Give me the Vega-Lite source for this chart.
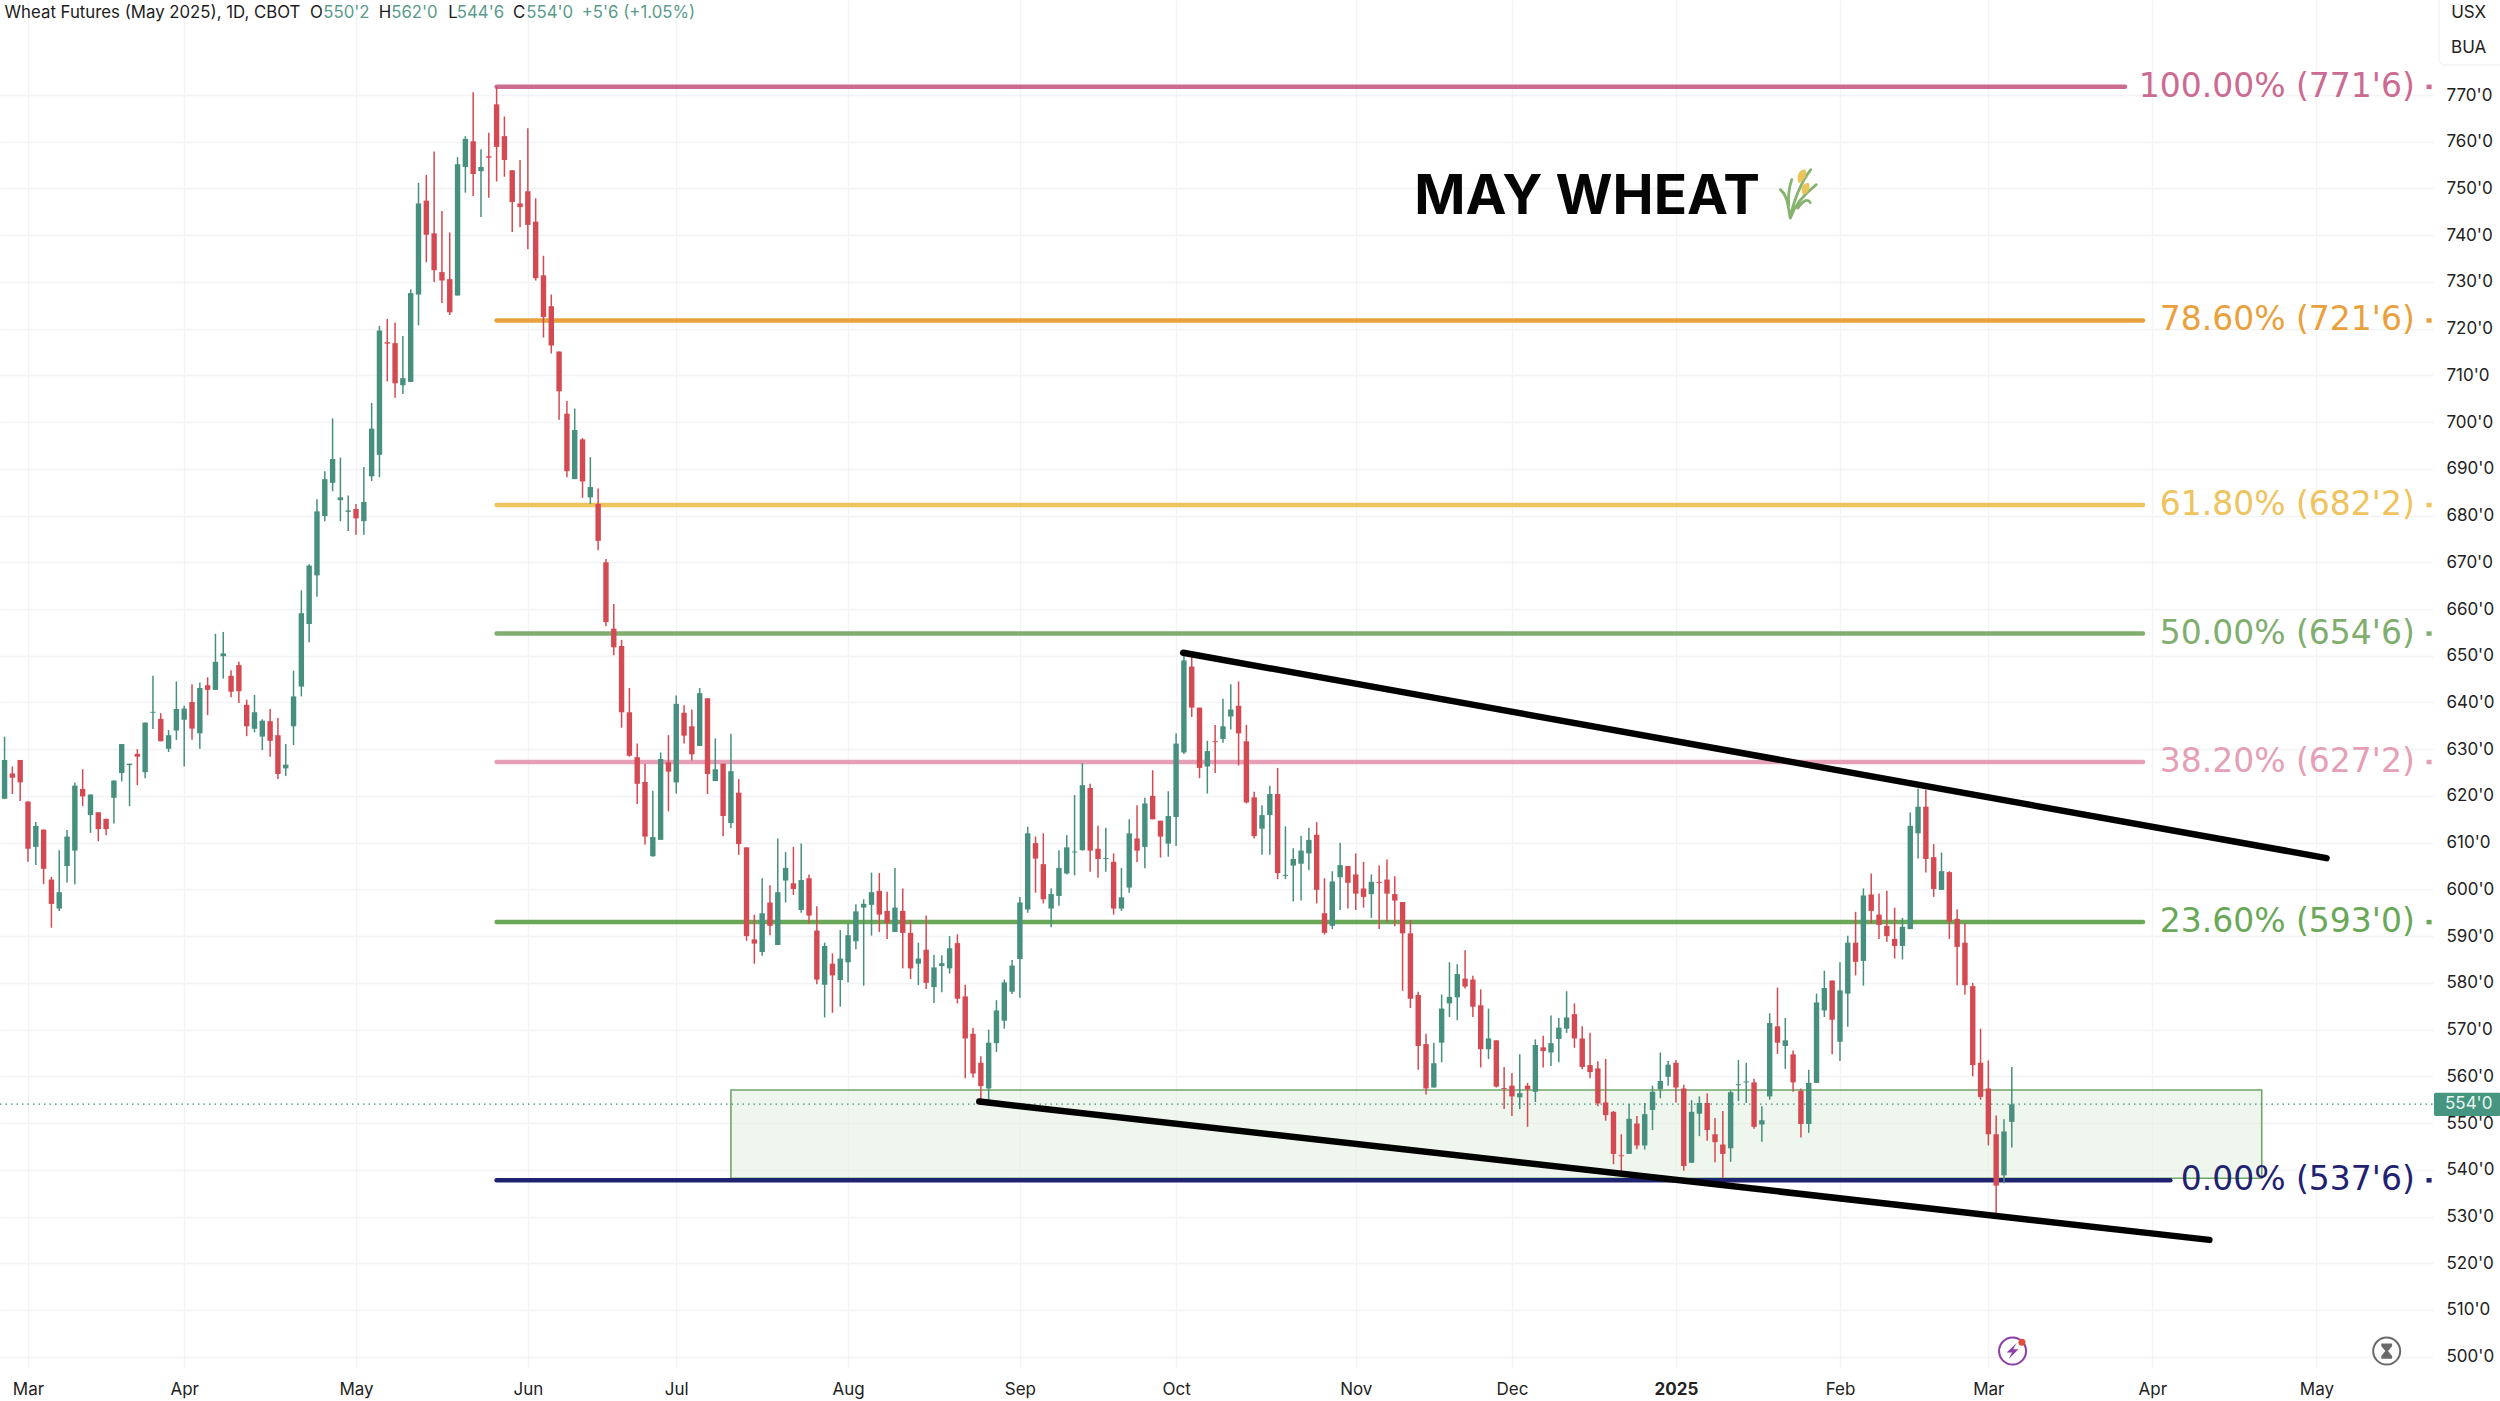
{"$schema":"https://vega.github.io/schema/vega-lite/v6.json","width":2433,"height":1368,"autosize":"none","padding":{"left":0,"top":0,"right":67,"bottom":33},"background":"#ffffff","config":{"view":{"stroke":null},"axis":{"title":null},"text":{"font":"Inter"}},
"datasets":{"candles":[
{"i":-3,"o":619.4,"h":632.7,"l":619.3,"c":627.7},{"i":-2,"o":624.8,"h":626.3,"l":620.4,"c":623.9},{"i":-1,"o":627.7,"h":627.7,"l":618.9,"c":622.9},{"i":0,"o":618.8,"h":618.8,"l":605.9,"c":608.7},{"i":1,"o":609.1,"h":614.4,"l":605.2,"c":613.6},{"i":2,"o":612.8,"h":612.8,"l":601.1,"c":604.4},{"i":3,"o":602.1,"h":602.7,"l":591.8,"c":596.9},{"i":4,"o":595.9,"h":608.4,"l":595.4,"c":599.4},{"i":5,"o":605,"h":612.7,"l":601.5,"c":611.3},{"i":6,"o":608.3,"h":622.9,"l":601.1,"c":622.2},{"i":7,"o":621.5,"h":625.7,"l":617.8,"c":619.9},{"i":8,"o":615.9,"h":620.3,"l":612.1,"c":620.3},{"i":9,"o":616.5,"h":616.5,"l":610.3,"c":612.9},{"i":10,"o":615.1,"h":615.1,"l":611.6,"c":612.9},{"i":11,"o":619.6,"h":623.3,"l":614.1,"c":623.3},{"i":12,"o":624.9,"h":631.1,"l":623.1,"c":631.1},{"i":13,"o":626.6,"h":626.9,"l":617.8,"c":626.9},{"i":14,"o":629,"h":630,"l":622.3,"c":628.4},{"i":15,"o":625.1,"h":635.7,"l":623.8,"c":635.7},{"i":16,"o":637.8,"h":645.7,"l":634.3,"c":638},{"i":17,"o":636.5,"h":637.7,"l":631.7,"c":631.7},{"i":18,"o":630.1,"h":634.1,"l":629.4,"c":633},{"i":19,"o":634,"h":644.5,"l":632,"c":638.6},{"i":20,"o":636.3,"h":639.3,"l":626.3,"c":638.7},{"i":21,"o":640.1,"h":643.9,"l":632,"c":634.4},{"i":22,"o":633.4,"h":644.3,"l":630.1,"c":643.1},{"i":23,"o":643.7,"h":645.4,"l":637.3,"c":642.7},{"i":24,"o":642.7,"h":654.7,"l":642.7,"c":648.7},{"i":25,"o":649.9,"h":655.1,"l":645.1,"c":650.5},{"i":26,"o":645.7,"h":646.9,"l":641.1,"c":642.3},{"i":27,"o":648,"h":648.7,"l":639.9,"c":642.4},{"i":28,"o":639.5,"h":640.6,"l":632.8,"c":634.9},{"i":29,"o":634.4,"h":641.6,"l":633.6,"c":637.9},{"i":30,"o":632.7,"h":636.4,"l":629.8,"c":636.1},{"i":31,"o":636,"h":638.6,"l":628.4,"c":631.8},{"i":32,"o":633,"h":636.7,"l":623.6,"c":624.7},{"i":33,"o":625.9,"h":631.1,"l":624.3,"c":626.7},{"i":34,"o":634.9,"h":646.8,"l":630.9,"c":641.3},{"i":35,"o":643.4,"h":664,"l":641.3,"c":659.1},{"i":36,"o":656.8,"h":669.6,"l":652.9,"c":669.3},{"i":37,"o":667.2,"h":683.5,"l":662.6,"c":680.9},{"i":38,"o":679.9,"h":689.5,"l":678.8,"c":687.8},{"i":39,"o":687,"h":700.8,"l":685.2,"c":692.1},{"i":40,"o":683.3,"h":692.4,"l":678.8,"c":683.9},{"i":41,"o":680.8,"h":684.3,"l":676.7,"c":681.1},{"i":42,"o":681.4,"h":682.5,"l":675.9,"c":679.4},{"i":43,"o":678.8,"h":690.4,"l":675.9,"c":682.9},{"i":44,"o":688.4,"h":704.1,"l":687.4,"c":698.6},{"i":45,"o":693,"h":720.6,"l":688.2,"c":719.6},{"i":46,"o":717.1,"h":722.1,"l":708.7,"c":716.8},{"i":47,"o":716.9,"h":721.3,"l":705.2,"c":708.3},{"i":48,"o":707.9,"h":718.4,"l":706,"c":709.4},{"i":49,"o":708.6,"h":728.4,"l":708.6,"c":727.6},{"i":50,"o":727.3,"h":751.2,"l":720.7,"c":746.8},{"i":51,"o":747.4,"h":752.9,"l":734.2,"c":740.1},{"i":52,"o":740.4,"h":757.9,"l":730,"c":732.5},{"i":53,"o":732.1,"h":745.2,"l":725.5,"c":730.3},{"i":54,"o":730.6,"h":740.6,"l":722.9,"c":723.5},{"i":55,"o":727.1,"h":756.7,"l":727.1,"c":755.2},{"i":56,"o":754.6,"h":761.2,"l":749.1,"c":760.6},{"i":57,"o":760.1,"h":770.6,"l":748.4,"c":753.1},{"i":58,"o":753.7,"h":758.4,"l":743.9,"c":754.6},{"i":59,"o":756.9,"h":761.9,"l":748,"c":756.6},{"i":60,"o":768,"h":771.75,"l":751.5,"c":758.9},{"i":61,"o":761.2,"h":765.4,"l":752.5,"c":756.1},{"i":62,"o":753.9,"h":753.9,"l":740.7,"c":747.1},{"i":63,"o":746.8,"h":756.1,"l":741.7,"c":746},{"i":64,"o":749.4,"h":762.9,"l":737,"c":742.2},{"i":65,"o":742.9,"h":747.9,"l":730.3,"c":730.8},{"i":66,"o":731.4,"h":735.6,"l":718.1,"c":722.5},{"i":67,"o":724.8,"h":727.3,"l":714.7,"c":716.4},{"i":68,"o":715.1,"h":715.1,"l":700.5,"c":706.6},{"i":69,"o":701.8,"h":704.5,"l":688.2,"c":689.5},{"i":70,"o":687.8,"h":702.9,"l":687.8,"c":698.3},{"i":71,"o":696.3,"h":696.6,"l":683.8,"c":687.3},{"i":72,"o":683.9,"h":692.5,"l":682.5,"c":686.1},{"i":73,"o":682.5,"h":685.8,"l":672.6,"c":674.6},{"i":74,"o":670,"h":670.7,"l":656.3,"c":657.2},{"i":75,"o":655.8,"h":661.1,"l":650.1,"c":651.8},
{"i":76,"o":652.1,"h":653.4,"l":634.6,"c":637.9},{"i":77,"o":637.9,"h":643.1,"l":628.4,"c":628.6},{"i":78,"o":628.3,"h":631.2,"l":618.3,"c":622.6},{"i":79,"o":623,"h":626.9,"l":609.6,"c":611.3},{"i":80,"o":607.1,"h":621.1,"l":607,"c":611.2},{"i":81,"o":610.6,"h":629.3,"l":610.6,"c":627.9},{"i":82,"o":627.2,"h":633,"l":616.7,"c":625.2},{"i":83,"o":622.9,"h":641.5,"l":620.5,"c":639.7},{"i":84,"o":637.8,"h":639.4,"l":631.2,"c":632.9},{"i":85,"o":634.9,"h":638.5,"l":627.6,"c":628.9},{"i":86,"o":630.7,"h":643.1,"l":630.7,"c":642},{"i":87,"o":640.9,"h":640.9,"l":620.4,"c":624.7},{"i":88,"o":623.2,"h":632.3,"l":623.2,"c":625.7},{"i":89,"o":626.9,"h":626.9,"l":611.4,"c":615.7},{"i":90,"o":614.2,"h":633.3,"l":613.1,"c":625.3},{"i":91,"o":620.7,"h":623.6,"l":607.4,"c":609.7},{"i":92,"o":609,"h":609,"l":589,"c":590},{"i":93,"o":589.3,"h":594.6,"l":584.1,"c":588.4},{"i":94,"o":586.6,"h":602.4,"l":585.8,"c":594.9},{"i":95,"o":597.2,"h":600.9,"l":590.2,"c":592.2},{"i":96,"o":588.1,"h":610.9,"l":588.1,"c":599.4},{"i":97,"o":601.9,"h":608,"l":597.2,"c":604.6},{"i":98,"o":601.3,"h":609.1,"l":598.8,"c":600.1},{"i":99,"o":595.6,"h":609.8,"l":595,"c":602},{"i":100,"o":602.4,"h":603.2,"l":592.7,"c":594.4},{"i":101,"o":591.2,"h":596.4,"l":579.7,"c":580.7},{"i":102,"o":579.6,"h":588.6,"l":572.6,"c":587.9},{"i":103,"o":584.1,"h":586.3,"l":573.6,"c":581.6},{"i":104,"o":580.6,"h":591.3,"l":574.9,"c":585.2},{"i":105,"o":584.4,"h":592.7,"l":580.1,"c":590.2},{"i":106,"o":588.9,"h":596.8,"l":587.2,"c":595.3},{"i":107,"o":596.1,"h":597.9,"l":579.4,"c":596.9},{"i":108,"o":596.7,"h":603.6,"l":590.1,"c":599.4},{"i":109,"o":599.7,"h":603.5,"l":590.9,"c":594.6},{"i":110,"o":595.4,"h":599.5,"l":589.4,"c":592.8},{"i":111,"o":590.9,"h":604.6,"l":590.9,"c":596.1},{"i":112,"o":595.4,"h":600.2,"l":583.1,"c":590.7},{"i":113,"o":590.7,"h":593.4,"l":580.8,"c":583.1},{"i":114,"o":584.1,"h":588.6,"l":579.5,"c":585.2},{"i":115,"o":587.1,"h":594.4,"l":578.7,"c":580},{"i":116,"o":579.1,"h":586,"l":575.7,"c":583.3},{"i":117,"o":583.6,"h":585.9,"l":578,"c":584.2},{"i":118,"o":583.1,"h":590,"l":582,"c":587.4},{"i":119,"o":588.5,"h":590.4,"l":575.6,"c":576.6},{"i":120,"o":577.1,"h":579.6,"l":559.6,"c":568.1},{"i":121,"o":569.1,"h":570.4,"l":559.7,"c":560.6},{"i":122,"o":562.9,"h":564.3,"l":554.7,"c":557.9},{"i":123,"o":557.4,"h":570,"l":554.9,"c":567.2},{"i":124,"o":567.1,"h":576.3,"l":565.2,"c":574.1},{"i":125,"o":571.9,"h":580.7,"l":570.2,"c":580.1},{"i":126,"o":578.1,"h":584.9,"l":577.6,"c":583.7},{"i":127,"o":585.1,"h":598.4,"l":576.8,"c":597.2},{"i":128,"o":595.7,"h":613.4,"l":595,"c":612},{"i":129,"o":609.9,"h":611.3,"l":599.3,"c":606.6},{"i":130,"o":605.4,"h":612,"l":597,"c":597.9},{"i":131,"o":595.9,"h":600.2,"l":591.9,"c":599},{"i":132,"o":598.6,"h":608.4,"l":596.5,"c":604.6},{"i":133,"o":603.4,"h":611.6,"l":603.2,"c":609},{"i":134,"o":607.9,"h":620.2,"l":603,"c":608.1},{"i":135,"o":608.4,"h":627,"l":608.3,"c":622.3},{"i":136,"o":621.7,"h":622.6,"l":603.8,"c":608.3},{"i":137,"o":608.7,"h":613.6,"l":602.5,"c":606.5},{"i":138,"o":606.5,"h":613.2,"l":603.8,"c":606.7},{"i":139,"o":605.9,"h":607.7,"l":594.6,"c":595.9},{"i":140,"o":595.9,"h":604.6,"l":595.4,"c":598.3},{"i":141,"o":600.4,"h":615,"l":599.3,"c":612},{"i":142,"o":610.9,"h":618,"l":605.8,"c":608.3},{"i":143,"o":609.1,"h":619.6,"l":604.5,"c":618.4},{"i":144,"o":620,"h":625.5,"l":615,"c":615},{"i":145,"o":614.7,"h":614.7,"l":606.8,"c":611.3},{"i":146,"o":609.8,"h":621,"l":607,"c":615.7},{"i":147,"o":615.5,"h":633.4,"l":609.3,"c":631.2},{"i":148,"o":629.3,"h":650,"l":629,"c":649},{"i":149,"o":647.7,"h":649.9,"l":636.9,"c":638.9},{"i":150,"o":638.9,"h":638.9,"l":623.8,"c":626},{"i":151,"o":626.3,"h":631.8,"l":620.5,"c":629.6},{"i":152,"o":631.7,"h":635.2,"l":624.9,"c":631.5},
{"i":153,"o":632.2,"h":640.8,"l":631.4,"c":634.9},{"i":154,"o":637,"h":643.9,"l":634.2,"c":638.5},{"i":155,"o":639.3,"h":644.5,"l":626.5,"c":633.4},{"i":156,"o":631.7,"h":635.2,"l":618.4,"c":618.6},{"i":157,"o":619.7,"h":620.9,"l":610.9,"c":611.4},{"i":158,"o":613,"h":618,"l":607.4,"c":615.9},{"i":159,"o":615.9,"h":622.2,"l":607.4,"c":620.4},{"i":160,"o":620.4,"h":626,"l":602.2,"c":603.5},{"i":161,"o":602.9,"h":613.5,"l":602.2,"c":603.1},{"i":162,"o":605.1,"h":608.8,"l":597.4,"c":606.5},{"i":163,"o":605.5,"h":611.5,"l":597.6,"c":608.3},{"i":164,"o":607.7,"h":613.2,"l":604.1,"c":610.6},{"i":165,"o":611.7,"h":614.4,"l":597,"c":599.9},{"i":166,"o":594.9,"h":602.4,"l":590.3,"c":590.7},{"i":167,"o":592.2,"h":603.9,"l":591.5,"c":601.7},{"i":168,"o":602.6,"h":610,"l":595.6,"c":605.2},{"i":169,"o":605,"h":605,"l":595.9,"c":601.4},{"i":170,"o":603.2,"h":607.7,"l":595.6,"c":599.1},{"i":171,"o":600.2,"h":605.9,"l":596.1,"c":598.4},{"i":172,"o":599,"h":603.2,"l":593.9,"c":601.6},{"i":173,"o":601.6,"h":605.1,"l":591.5,"c":601.4},{"i":174,"o":602.1,"h":606.4,"l":593,"c":599.1},{"i":175,"o":599,"h":602.8,"l":592.1,"c":597.6},{"i":176,"o":597.3,"h":597.3,"l":578.3,"c":590.6},{"i":177,"o":590.6,"h":593.4,"l":574.6,"c":576.6},{"i":178,"o":577.4,"h":578.1,"l":561.4,"c":566.5},{"i":179,"o":566.9,"h":569.1,"l":556.1,"c":557.4},{"i":180,"o":557.6,"h":567.2,"l":557.6,"c":562.8},{"i":181,"o":567.2,"h":577.5,"l":563,"c":574.5},{"i":182,"o":575.6,"h":584.4,"l":572.7,"c":577},{"i":183,"o":576.9,"h":584,"l":572,"c":581.9},{"i":184,"o":580.9,"h":587,"l":578.8,"c":579.2},{"i":185,"o":580.7,"h":581.5,"l":572.7,"c":574.9},{"i":186,"o":575.2,"h":578.6,"l":561.9,"c":565.8},{"i":187,"o":565.8,"h":574.5,"l":563.7,"c":568.1},{"i":188,"o":567.7,"h":567.7,"l":557.6,"c":557.8},{"i":189,"o":557.5,"h":562,"l":553,"c":557.3},{"i":190,"o":558,"h":560.7,"l":551.5,"c":555.7},{"i":191,"o":555.5,"h":564.7,"l":553,"c":556.4},{"i":192,"o":558,"h":558.6,"l":549.2,"c":557.2},{"i":193,"o":556.7,"h":567.9,"l":554.5,"c":566.7},{"i":194,"o":566.2,"h":568.7,"l":561.9,"c":565.4},{"i":195,"o":565.1,"h":573,"l":562.2,"c":567.1},{"i":196,"o":568,"h":572.5,"l":563,"c":570.4},{"i":197,"o":570.2,"h":578.2,"l":569.3,"c":572.6},{"i":198,"o":573.3,"h":575.6,"l":566.1,"c":568.1},{"i":199,"o":568.1,"h":570.7,"l":561.5,"c":562},{"i":200,"o":562.4,"h":569.3,"l":559.6,"c":560.9},{"i":201,"o":561.7,"h":563.2,"l":553.6,"c":554.2},{"i":202,"o":554.4,"h":563.7,"l":550.5,"c":551.7},{"i":203,"o":552.4,"h":552.6,"l":541.2,"c":543.4},{"i":204,"o":543.1,"h":547.6,"l":539.4,"c":542.9},{"i":205,"o":543.4,"h":554.1,"l":543.4,"c":550.9},{"i":206,"o":549.9,"h":551.5,"l":544.4,"c":545.2},{"i":207,"o":545.2,"h":554.3,"l":544.3,"c":551.9},{"i":208,"o":552.8,"h":558,"l":548.5,"c":556.7},{"i":209,"o":557.3,"h":565.1,"l":555.3,"c":559},{"i":210,"o":559.9,"h":563.3,"l":558,"c":562.5},{"i":211,"o":562.9,"h":563.5,"l":554.4,"c":557.6},{"i":212,"o":557.4,"h":558.2,"l":539.8,"c":540.8},{"i":213,"o":541.5,"h":554.9,"l":541.5,"c":552.4},{"i":214,"o":552,"h":555.7,"l":547.2,"c":554.3},{"i":215,"o":554.3,"h":556.4,"l":546.2,"c":548.5},{"i":216,"o":547.6,"h":551.1,"l":541.6,"c":545.9},{"i":217,"o":545.4,"h":552.6,"l":538.3,"c":543.4},{"i":218,"o":544.6,"h":557,"l":541.7,"c":556.6},{"i":219,"o":558.1,"h":563.5,"l":554.7,"c":558.3},{"i":220,"o":558.7,"h":562.9,"l":554.3,"c":558.9},{"i":221,"o":558.7,"h":559.5,"l":548.8,"c":549.2},{"i":222,"o":549.7,"h":553.6,"l":546,"c":550.6},{"i":223,"o":555.7,"h":573.5,"l":555,"c":571.4},{"i":224,"o":570.7,"h":579,"l":564.8,"c":567.2},{"i":225,"o":566.5,"h":572.5,"l":561.6,"c":567.7},{"i":226,"o":564.7,"h":565.5,"l":556.7,"c":558.7},{"i":227,"o":556.9,"h":557.4,"l":546.9,"c":549.8},{"i":228,"o":549.8,"h":561.4,"l":547.9,"c":558.6},{"i":229,"o":558.6,"h":577.7,"l":558.6,"c":575.8},
{"i":230,"o":574.1,"h":582.6,"l":572.7,"c":578.9},{"i":231,"o":580.5,"h":580.5,"l":564.7,"c":572.1},{"i":232,"o":567.4,"h":584.4,"l":563.3,"c":578.4},{"i":233,"o":577.7,"h":590.1,"l":570.6,"c":588.6},{"i":234,"o":588.6,"h":595.2,"l":581.6,"c":584.5},{"i":235,"o":584.7,"h":600.2,"l":579.4,"c":598.7},{"i":236,"o":598.9,"h":603.4,"l":592.7,"c":595.4},{"i":237,"o":594.6,"h":599.1,"l":589.4,"c":592.4},{"i":238,"o":592.2,"h":599.7,"l":588.8,"c":590},{"i":239,"o":589.4,"h":596.1,"l":585.2,"c":587.9},{"i":240,"o":587.9,"h":593.9,"l":585,"c":592},{"i":241,"o":591.5,"h":616.5,"l":591.5,"c":613.6},{"i":242,"o":612,"h":621.6,"l":606.6,"c":617.7},{"i":243,"o":617.7,"h":621.3,"l":603.6,"c":606.5},{"i":244,"o":606.9,"h":609.7,"l":598.4,"c":600.1},{"i":245,"o":599.9,"h":607.9,"l":599.9,"c":603.9},{"i":246,"o":603.7,"h":603.9,"l":589.4,"c":593.1},{"i":247,"o":593.7,"h":595.7,"l":579.5,"c":587.7},{"i":248,"o":588.6,"h":592.7,"l":577.5,"c":579.5},{"i":249,"o":579.3,"h":580,"l":560,"c":562.4},{"i":250,"o":562.9,"h":570.2,"l":555,"c":555.6},{"i":251,"o":557.4,"h":563.4,"l":545.2,"c":547.6},{"i":252,"o":547.6,"h":551.6,"l":530.6,"c":536.6},{"i":253,"o":538.8,"h":550.8,"l":537.1,"c":548.2},{"i":254,"o":550.25,"h":562,"l":544.75,"c":554}
],
"fib":[
{"level":"100","price":771.75,"start":60,"end":268.5,"label":"100.00% (771'6)"},
{"level":"78.6","price":721.75,"start":60,"end":270.8,"label":"78.60% (721'6)"},
{"level":"61.8","price":682.25,"start":60,"end":270.8,"label":"61.80% (682'2)"},
{"level":"50","price":654.75,"start":60,"end":270.8,"label":"50.00% (654'6)"},
{"level":"38.2","price":627.25,"start":60,"end":270.8,"label":"38.20% (627'2)"},
{"level":"23.6","price":593,"start":60,"end":270.8,"label":"23.60% (593'0)"},
{"level":"0","price":537.75,"start":60,"end":274.3,"label":"0.00% (537'6)"}
],
"trend":[
{"line":"upper","i":147.9,"v":650.65},{"line":"upper","i":294.3,"v":606.7},
{"line":"lower","i":121.8,"v":554.6},{"line":"lower","i":279.3,"v":525}
],
"header":[
{"i":-3,"t":"Wheat Futures (May 2025), 1D, CBOT","k":"dark"},
{"i":36.1,"t":"O","k":"dark"},{"i":37.8,"t":"550'2","k":"up"},
{"i":44.9,"t":"H","k":"dark"},{"i":46.5,"t":"562'0","k":"up"},
{"i":53.8,"t":"L","k":"dark"},{"i":54.9,"t":"544'6","k":"up"},
{"i":62.1,"t":"C","k":"dark"},{"i":63.8,"t":"554'0","k":"up"},
{"i":70.9,"t":"+5'6 (+1.05%)","k":"up"}
]},
"layer":[
{"data":{"values":[{"a":90,"b":286,"top":557.06,"bot":538.2}]},"mark":{"type":"rect","fill":"#e2efde","fillOpacity":0.55,"stroke":"#6fa768","strokeWidth":1.6},
"encoding":{"x":{"field":"a","type":"quantitative","scale":{"domain":[-3.585,307.93],"range":[0,2433],"padding":0,"nice":false,"zero":false},"axis":{"values":[0,20,42,64,83,105,127,147,170,190,211,232,251,272,293],"labelExpr":"['Mar','Apr','May','Jun','Jul','Aug','Sep','Oct','Nov','Dec','2025','Feb','Mar','Apr','May'][indexof([0,20,42,64,83,105,127,147,170,190,211,232,251,272,293],datum.value)]","grid":true,"gridColor":"#f1f3f6","gridWidth":1.3,"domain":false,"ticks":false,"labelFont":"Inter","labelFontSize":17,"labelColor":"#222222","labelPadding":13,"labelBaseline":"top","labelFontWeight":{"condition":{"test":"datum.value==211","value":"bold"},"value":"normal"},"labelFlush":false,"labelOverlap":false,"title":null}},"x2":{"field":"b"},
"y":{"field":"top","type":"quantitative","scale":{"domain":[497.58,790.33],"nice":false,"zero":false},"axis":{"orient":"right","values":[500,510,520,530,540,550,560,570,580,590,600,610,620,630,640,650,660,670,680,690,700,710,720,730,740,750,760,770],"labelExpr":"datum.value + \"'0\"","grid":true,"gridColor":"#f1f3f6","gridWidth":1.3,"domain":false,"ticks":false,"labelFont":"Inter","labelFontSize":17,"labelColor":"#222222","labelPadding":13,"labelAlign":"left","labelOverlap":false,"title":null}},"y2":{"field":"bot"}}},
{"data":{"values":[{"a":-3.585,"b":307.93,"v":554.05}]},"mark":{"type":"rule","color":"#3f8f7b","strokeWidth":1.4,"strokeDash":[1.5,4]},"encoding":{"x":{"field":"a","type":"quantitative"},"x2":{"field":"b"},"y":{"field":"v","type":"quantitative"}}},
{"data":{"name":"fib"},"mark":{"type":"rule","strokeWidth":4.5,"strokeCap":"round"},"encoding":{"x":{"field":"start","type":"quantitative"},"x2":{"field":"end"},"y":{"field":"price","type":"quantitative"},"color":{"field":"level","type":"nominal","legend":null,"scale":{"domain":["100","78.6","61.8","50","38.2","23.6","0"],"range":["#cc6b92","#e8a13d","#efc35e","#7fae6f","#e5a0b7","#6aa858","#1f2270"]}}}},
{"data":{"name":"fib"},"mark":{"type":"rule","strokeWidth":4.5},"encoding":{"x":{"datum":307.1},"x2":{"datum":307.75},"y":{"field":"price","type":"quantitative"},"color":{"field":"level","type":"nominal","legend":null}}},
{"data":{"name":"candles"},"mark":{"type":"rule","strokeWidth":1.5},"encoding":{"x":{"field":"i","type":"quantitative"},"y":{"field":"l","type":"quantitative"},"y2":{"field":"h"},"color":{"condition":{"test":"datum.c>=datum.o","value":"#478f7e"},"value":"#d44a52"}}},
{"data":{"name":"candles"},"mark":{"type":"bar","size":5.4},"encoding":{"x":{"field":"i","type":"quantitative"},"y":{"field":"o","type":"quantitative"},"y2":{"field":"c"},"color":{"condition":{"test":"datum.c>=datum.o","value":"#478f7e"},"value":"#d44a52"}}},
{"data":{"name":"trend"},"mark":{"type":"line","color":"#000000","strokeWidth":6.5,"strokeCap":"round"},"encoding":{"x":{"field":"i","type":"quantitative"},"y":{"field":"v","type":"quantitative"},"detail":{"field":"line"}}},
{"data":{"name":"fib"},"mark":{"type":"text","align":"right","baseline":"middle","fontSize":33,"font":"DejaVu Sans"},"encoding":{"x":{"datum":305.6},"y":{"field":"price","type":"quantitative"},"text":{"field":"label"},"color":{"field":"level","type":"nominal","legend":null}}},
{"data":{"name":"header"},"mark":{"type":"text","align":"left","baseline":"middle","fontSize":16.8,"font":"Inter"},"encoding":{"x":{"field":"i","type":"quantitative"},"y":{"datum":787.6},"text":{"field":"t"},"color":{"condition":{"test":"datum.k=='up'","value":"#5a9b8a"},"value":"#1c1c1c"}}},
{"data":{"values":[{"t":"MAY WHEAT","i":177.5,"v":748.1}]},"mark":{"type":"text","align":"left","baseline":"middle","fontSize":55,"fontWeight":"bold","font":"Inter","color":"#050505"},"encoding":{"x":{"field":"i","type":"quantitative"},"y":{"field":"v","type":"quantitative"},"text":{"field":"t"}}},
{"data":{"values":[{"i":226.6,"v":749}]},"mark":{"type":"point","filled":false,"opacity":1,"size":10000,"strokeWidth":2.8,"stroke":"#86b46f","strokeCap":"round","shape":"M-0.15,0.5 C-0.1,0.2 0.05,-0.2 0.26,-0.47 M-0.15,0.5 C-0.05,0.2 0.15,0 0.37,-0.17 M-0.15,0.5 C-0.2,0.25 -0.2,0.05 -0.35,-0.07 M-0.18,0.25 C-0.2,0.05 -0.18,-0.1 -0.12,-0.27 M0,0.3 C0.1,0.15 0.2,0.1 0.25,0.19"},"encoding":{"x":{"field":"i","type":"quantitative"},"y":{"field":"v","type":"quantitative"}}},
{"data":{"values":[{"i":226.6,"v":749}]},"mark":{"type":"point","filled":true,"opacity":1,"size":10000,"fill":"#ecc45c","shape":"M0.02,-0.2 C-0.05,-0.35 0.05,-0.5 0.15,-0.47 C0.2,-0.4 0.15,-0.25 0.02,-0.2 Z M0.1,0.03 C0.03,-0.1 0.12,-0.22 0.22,-0.2 C0.26,-0.12 0.22,0 0.1,0.03 Z"},"encoding":{"x":{"field":"i","type":"quantitative"},"y":{"field":"v","type":"quantitative"}}},
{"data":{"values":[{"a":308.7,"b":317,"top":795,"bot":776.4}]},"mark":{"type":"rect","fill":"#ffffff","stroke":"#f1f2f4","strokeWidth":1.2,"cornerRadius":6},"encoding":{"x":{"field":"a","type":"quantitative"},"x2":{"field":"b"},"y":{"field":"top","type":"quantitative"},"y2":{"field":"bot"}}},
{"data":{"values":[{"t":"USX","v":787.6},{"t":"BUA","v":780.1}]},"mark":{"type":"text","align":"center","baseline":"middle","fontSize":17,"font":"Inter","color":"#222222"},"encoding":{"x":{"datum":312.5},"y":{"field":"v","type":"quantitative"},"text":{"field":"t"}}},
{"data":{"values":[{"a":308.05,"b":316.6,"top":556.5,"bot":551.5}]},"mark":{"type":"rect","fill":"#459580","cornerRadius":2},"encoding":{"x":{"field":"a","type":"quantitative"},"x2":{"field":"b"},"y":{"field":"top","type":"quantitative"},"y2":{"field":"bot"}}},
{"data":{"values":[{"t":"554'0","v":554}]},"mark":{"type":"text","align":"center","baseline":"middle","fontSize":17,"font":"Inter","color":"#e8f5f1"},"encoding":{"x":{"datum":312.5},"y":{"field":"v","type":"quantitative"},"text":{"field":"t"}}},
{"data":{"values":[{"i":254.1,"v":501.2}]},"mark":{"type":"point","filled":false,"opacity":1,"size":729,"shape":"circle","stroke":"#8c3fa6","strokeWidth":2,"fill":"#ffffff"},"encoding":{"x":{"field":"i","type":"quantitative"},"y":{"field":"v","type":"quantitative"}}},
{"data":{"values":[{"i":254.1,"v":501.2}]},"mark":{"type":"point","filled":true,"opacity":1,"size":2916,"fill":"#8c3fa6","shape":"M0.15,-0.3 L-0.22,0.05 L-0.02,0.05 L-0.15,0.3 L0.22,-0.07 L0.02,-0.07 Z"},"encoding":{"x":{"field":"i","type":"quantitative"},"y":{"field":"v","type":"quantitative"}}},
{"data":{"values":[{"i":255.3,"v":503.1}]},"mark":{"type":"point","filled":true,"opacity":1,"size":50,"shape":"circle","fill":"#d9503f"},"encoding":{"x":{"field":"i","type":"quantitative"},"y":{"field":"v","type":"quantitative"}}},
{"data":{"values":[{"i":302,"v":501.2}]},"mark":{"type":"point","filled":false,"opacity":1,"size":729,"shape":"circle","stroke":"#6a6a6a","strokeWidth":2},"encoding":{"x":{"field":"i","type":"quantitative"},"y":{"field":"v","type":"quantitative"}}},
{"data":{"values":[{"i":302,"v":501.2}]},"mark":{"type":"point","filled":true,"opacity":1,"size":2916,"fill":"#6a6a6a","shape":"M-0.2,-0.28 L0.2,-0.28 L0.2,-0.18 L0.05,0 L0.2,0.18 L0.2,0.28 L-0.2,0.28 L-0.2,0.18 L-0.05,0 L-0.2,-0.18 Z"},"encoding":{"x":{"field":"i","type":"quantitative"},"y":{"field":"v","type":"quantitative"}}}
]}
